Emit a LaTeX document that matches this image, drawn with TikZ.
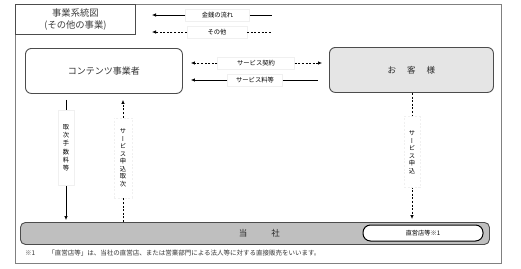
\documentclass[tikz,border=0pt]{standalone}
\usepackage{fontspec}
\setmainfont{Noto Sans CJK JP}
\newfontfamily\vfont[RawFeature=+vert]{Noto Sans CJK JP}
\usetikzlibrary{arrows.meta,calc}
\begin{document}
\begin{tikzpicture}[x=1pt,y=-1pt,
  frame/.style={draw=black!50, line width=0.8pt},
  box/.style={draw=black!70, line width=0.9pt, rounded corners=6pt, anchor=north west},
  lbl/.style={fill=white, draw=black!6, inner sep=1.5pt, minimum height=12pt, font=\fontsize{6.3}{7}\selectfont},
  vlbl/.style={fill=white, draw=black!6, inner sep=1pt, align=center},
  arr/.style={-{Latex[length=4pt,width=3.6pt]}, line width=0.7pt},
  dsh/.style={dash pattern=on 2pt off 1.6pt},
  con/.style={line width=0.7pt}]
\useasboundingbox (0,0) rectangle (521,268);
\fill[white] (0,0) rectangle (521,268);
% outer frame
\draw[frame] (15,4) rectangle (501,263);
\node[draw=black!70, line width=0.8pt, anchor=north west, minimum width=120pt, minimum height=30pt,
      align=center, font=\fontsize{9.3}{12}\selectfont, text=black!75] (title) at (15,4) {事業系統図\\(その他の事業)};
% legend
\coordinate (lm1) at (152,15);
\coordinate (lm2) at (272,15);
\coordinate (lo1) at (152,32);
\coordinate (lo2) at (272,32);
\node[lbl, minimum width=64pt] (lgm) at (217.5,15) {金銭の流れ};
\node[lbl, minimum width=60pt] (lgo) at (217,32) {その他};
\draw[arr] (lgm.west) -- (lm1);
\draw[con] (lgm.east) -- (lm2);
\draw[arr,dsh] (lgo.west) -- (lo1);
\draw[con,dsh] (lgo.east) -- (lo2);
% main boxes
\node[box, fill=white, minimum width=157pt, minimum height=45pt, font=\fontsize{9}{10}\selectfont, text=black!80] (cont) at (25,48) {コンテンツ事業者};
\node[box, fill=black!10, minimum width=164pt, minimum height=45pt, font=\fontsize{8.5}{10}\selectfont, text=black!85] (cust) at (329,47) {お\hspace{11pt}客\hspace{11pt}様};
\node[box, fill=black!25, rounded corners=5pt, minimum width=469pt, minimum height=22pt, font=\fontsize{8.5}{10}\selectfont, text=black!85] (tosha) at (20,222) {\hspace*{9pt}当\hspace{24pt}社};
\node[draw=black, fill=white, line width=1pt, rounded corners=7.5pt, minimum width=120pt, minimum height=16pt,
      inner sep=1pt, font=\fontsize{6.2}{7}\selectfont] (direct) at (423,233) {直営店等※1};
% horizontal connectors
\node[lbl, minimum width=77pt] (sk) at (256,63) {サービス契約};
\draw[arr,dsh,shorten >=8pt] (sk.west) -- (cont.east |- sk);
\draw[arr,dsh,shorten >=7pt] (sk.east) -- (cust.west |- sk);
\node[lbl, minimum width=55pt] (sr) at (255,80) {サービス料等};
\draw[arr,shorten >=8pt] (sr.west) -- (cont.east |- sr);
\draw[con,shorten >=11pt] (sr.east) -- (cust.west |- sr);
% vertical connectors
\coordinate (xa) at (66,0);
\coordinate (xb) at (123,0);
\coordinate (xc) at (412,0);
\draw[arr,shorten <=6pt,shorten >=2pt] (xa |- cont.south) -- node[pos=0.42, vlbl, minimum width=16pt, minimum height=75pt, font=\vfont\fontsize{6.3}{8.3}\selectfont]{取\\次\\手\\数\\料\\等} (xa |- tosha.north);
\draw[arr,dsh,shorten >=6pt] (xb |- tosha.north) -- node[pos=0.5, vlbl, minimum width=18pt, minimum height=80pt, font=\vfont\fontsize{6.3}{7.5}\selectfont]{サ\\ー\\ビ\\ス\\申\\込\\取\\次} (xb |- cont.south);
\draw[arr,dsh,shorten >=3pt] (xc |- cust.south) -- node[pos=0.46, vlbl, minimum width=16pt, minimum height=71pt, font=\vfont\fontsize{6.3}{7.5}\selectfont]{サ\\ー\\ビ\\ス\\申\\込} (xc |- tosha.north);
% footnote
\node[anchor=west, inner sep=0pt, font=\fontsize{6.5}{7}\selectfont, text=black!80] (note) at (25,253) {※1\hspace{13pt}「直営店等」は、当社の直営店、または営業部門による法人等に対する直接販売をいいます。};
\end{tikzpicture}
\end{document}
